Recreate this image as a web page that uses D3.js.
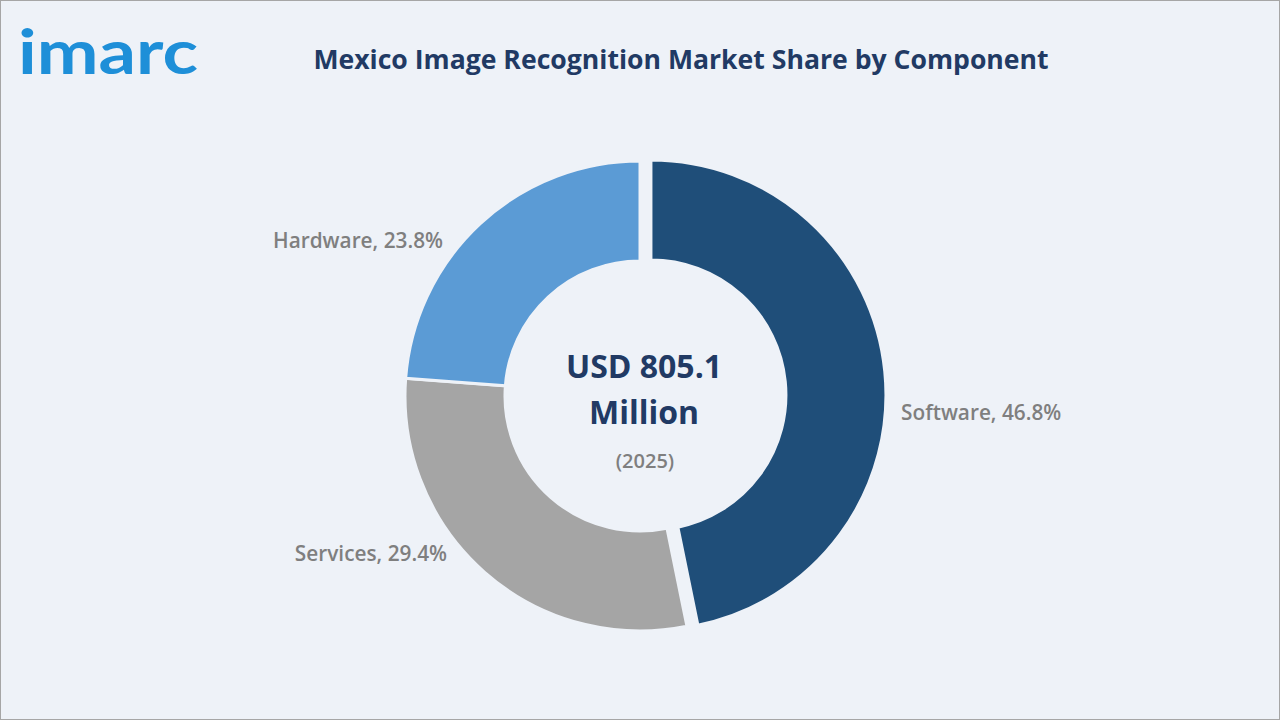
<!DOCTYPE html>
<html><head><meta charset="utf-8">
<script src="https://cdn.jsdelivr.net/npm/d3@7"></script>
<style>body{margin:0;background:#fff}svg{display:block}</style>
</head><body>
<svg id="c" width="1280" height="720"></svg>
<script>
const categories = ["Software", "Services", "Hardware"];
const shares = [46.8, 29.4, 23.8];
const colors = ["#1f4e79", "#a5a5a5", "#5b9bd5"];
const centerLines = ["USD 805.1", "Million"];
const yearLabel = "(2025)";

const svg = d3.select("#c");
const bg = "#eef2f8";
svg.append("rect").attr("x",0.5).attr("y",0.5).attr("width",1279).attr("height",719)
  .attr("fill",bg).attr("stroke","#a6a6a6");

// logo
svg.append("text").attr("x",18).attr("y",74).attr("font-family","Lato, 'Open Sans', sans-serif")
  .attr("font-weight",700).attr("font-size",62).attr("fill","#1e8fd8")
  .attr("textLength",180).attr("lengthAdjust","spacingAndGlyphs").text("imarc");

svg.append("text").attr("x",681).attr("y",69).attr("text-anchor","middle")
  .attr("font-family","'Open Sans', 'DejaVu Sans', sans-serif").attr("font-weight",700)
  .attr("font-size",26.6).attr("fill","#213a64").text("Mexico Image Recognition Market Share by Component");

const cx = 640, cy = 396, R = 235, r = 135;
const pie = d3.pie().sort(null).value(d=>d)(shares);
const arc = d3.arc().innerRadius(r).outerRadius(R);
const g = svg.append("g").attr("transform",`translate(${cx},${cy})`);
g.selectAll("path").data(pie).join("path")
  .attr("d",arc).attr("fill",(d,i)=>colors[i]).attr("stroke",bg).attr("stroke-width",3)
  .attr("transform",(d,i)=>{ if(i!==0) return null; const a=(d.startAngle+d.endAngle)/2; return `translate(${11*Math.sin(a)},${-11*Math.cos(a)})`; });

const labelPos = [[901,420,"start"],[447,561,"end"],[443,248,"end"]];
categories.forEach((c,i)=>{
  svg.append("text").attr("x",labelPos[i][0]).attr("y",labelPos[i][1]).attr("text-anchor",labelPos[i][2])
    .attr("font-family","'Open Sans', 'DejaVu Sans', sans-serif").attr("font-weight",600).attr("font-size",20.8)
    .attr("fill","#7f7f7f").text(`${c}, ${shares[i]}%`);
});

centerLines.forEach((t,i)=>{
  svg.append("text").attr("x",644).attr("y",378+i*46).attr("text-anchor","middle")
    .attr("font-family","'Open Sans', 'DejaVu Sans', sans-serif").attr("font-weight",700).attr("font-size",32)
    .attr("fill","#213a64").text(t);
});
svg.append("text").attr("x",645).attr("y",468).attr("text-anchor","middle")
  .attr("font-family","'Open Sans', 'DejaVu Sans', sans-serif").attr("font-weight",600).attr("font-size",20)
  .attr("fill","#7f7f7f").text(yearLabel);
</script>
</body></html>
